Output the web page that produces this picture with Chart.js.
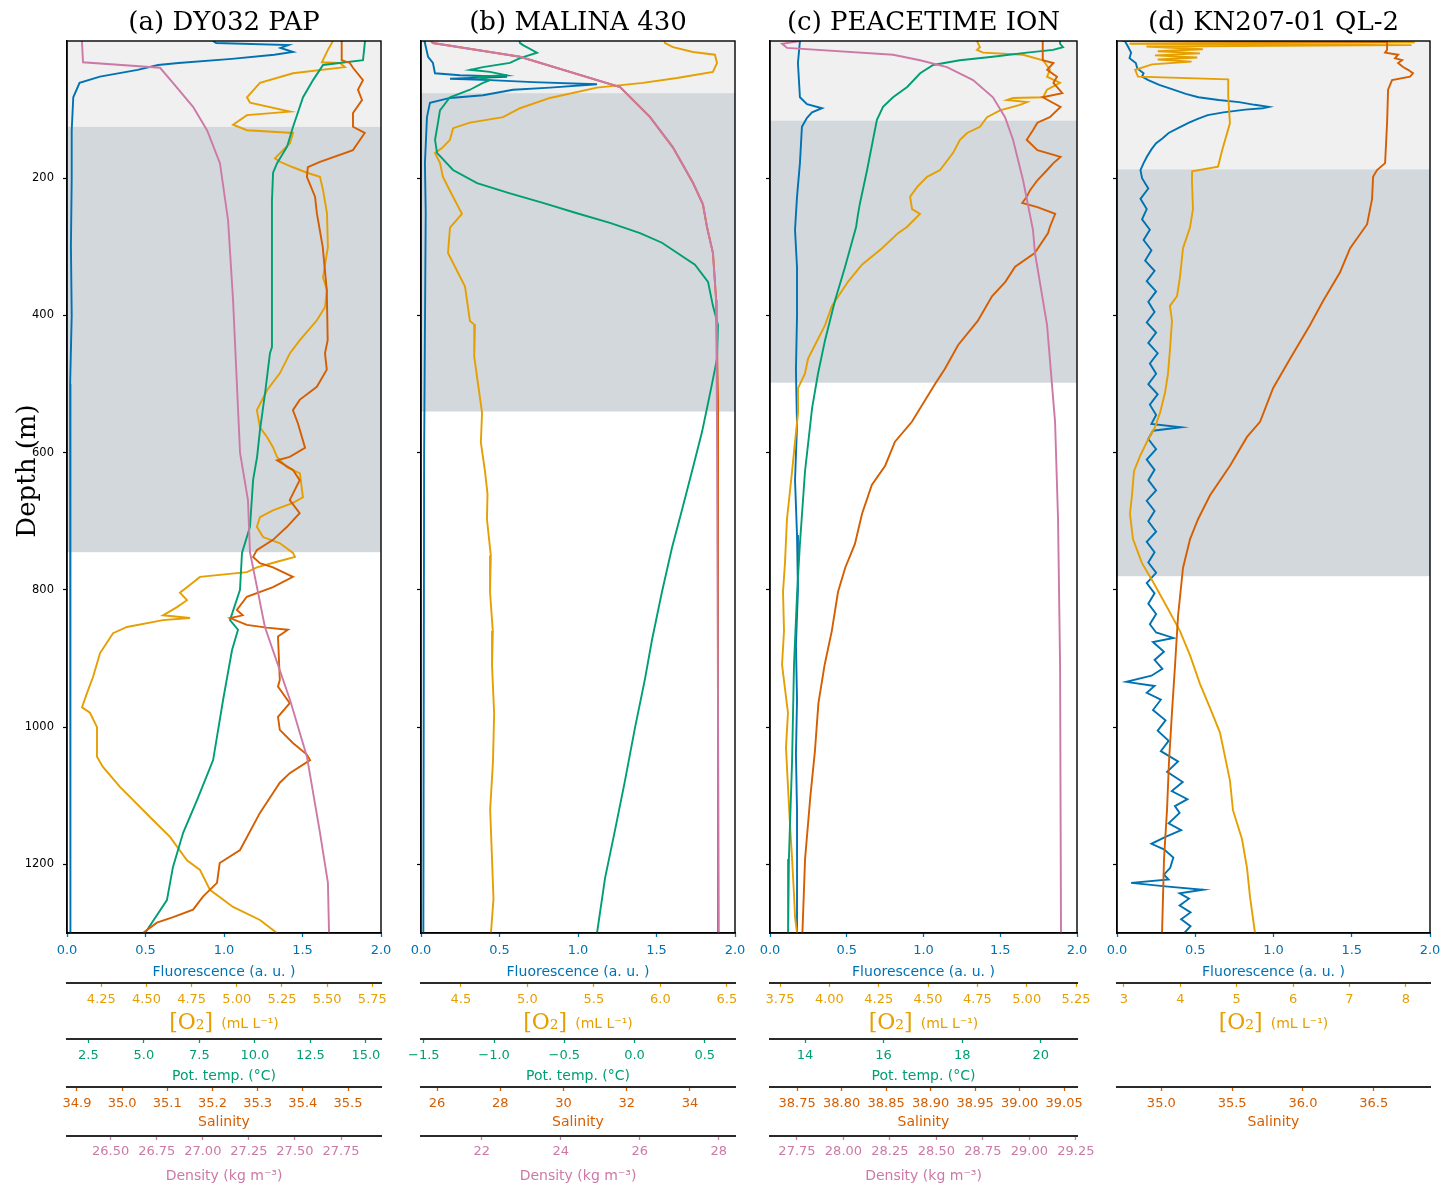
<!DOCTYPE html>
<html><head><meta charset="utf-8">
<script src="https://cdn.jsdelivr.net/npm/chart.js@4.4.1/dist/chart.umd.min.js"></script>
<style>
html,body{margin:0;padding:0;background:#fff;}
#wrap{position:relative;width:1455px;height:1188px;background:#fff;}
#wrap canvas{position:absolute;left:0;top:0;}
</style></head><body><div id="wrap">
<canvas id="pa" width="1455" height="1188"></canvas>
<canvas id="pb" width="1455" height="1188"></canvas>
<canvas id="pc" width="1455" height="1188"></canvas>
<canvas id="pd" width="1455" height="1188"></canvas>
</div>
<script>
const SANS = "'DejaVu Sans', sans-serif";
const SERIF = "'DejaVu Serif', serif";
const COL = {flu:'#0072B2', o2:'#E69F00', temp:'#009E73', sal:'#D55E00', dens:'#CC79A7'};

// ---------- tick labels ----------
const depthTicks = [200,400,600,800,1000,1200];
const flTicks = [0,0.5,1,1.5,2];
const aO2Ticks = [4.25,4.5,4.75,5,5.25,5.5,5.75];
const aTempTicks = [2.5,5,7.5,10,12.5,15];
const aSalTicks = [34.9,35.0,35.1,35.2,35.3,35.4,35.5];
const aDensTicks = [26.5,26.75,27,27.25,27.5,27.75];
const bO2Ticks = [4.5,5,5.5,6,6.5];
const bTempTicks = [-1.5,-1,-0.5,0,0.5];
const bSalTicks = [26,28,30,32,34];
const bDensTicks = [22,24,26,28];
const cO2Ticks = [3.75,4,4.25,4.5,4.75,5,5.25];
const cTempTicks = [14,16,18,20];
const cSalTicks = [38.75,38.8,38.85,38.9,38.95,39,39.05];
const cDensTicks = [27.75,28,28.25,28.5,28.75,29,29.25];
const dO2Ticks = [3,4,5,6,7,8];
const dSalTicks = [35,35.5,36,36.5];

// ---------- shaded depth zones [from, to, colour] ----------
const aBands = [[0,125,'#f0f0f0'],[125,745,'#d3d8dd']];
const bBands = [[0,76,'#f0f0f0'],[76,540,'#d3d8dd']];
const cBands = [[0,116,'#f0f0f0'],[116,498,'#d3d8dd']];
const dBands = [[0,187,'#f0f0f0'],[187,780,'#d3d8dd']];

// ---------- (a) DY032 PAP ----------
const aFluDepth = [0,3,6,10,16,20,26,32,35,42,52,61,82,130,200,300,400,500,600,700,800,900,1000,1100,1200,1300];
const aFluVal = [0.93,0.95,1.41,1.36,1.44,1.32,1.05,0.71,0.58,0.45,0.21,0.08,0.04,0.03,0.03,0.025,0.03,0.02,0.025,0.02,0.025,0.02,0.02,0.025,0.02,0.02];
const aO2Depth = [0,13,31,32,38,47,61,82,90,103,108,122,130,134,149,171,176,184,192,198,217,251,300,345,363,388,407,436,455,484,509,538,563,577,592,606,621,630,665,673,684,694,708,723,732,746,752,759,767,774,781,796,804,815,825,837,841,844,854,863,892,927,950,971,979,1000,1043,1058,1087,1106,1131,1160,1194,1208,1237,1262,1281,1300];
const aO2Val = [5.532,5.504,5.471,5.571,5.598,5.311,5.128,5.056,5.073,5.294,5.056,4.979,5.056,5.311,5.294,5.211,5.239,5.311,5.388,5.460,5.477,5.499,5.504,5.477,5.499,5.488,5.443,5.349,5.294,5.239,5.167,5.111,5.128,5.167,5.200,5.222,5.277,5.349,5.366,5.311,5.200,5.128,5.111,5.145,5.239,5.311,5.322,5.222,5.111,5.056,4.796,4.724,4.685,4.724,4.669,4.591,4.741,4.591,4.392,4.315,4.243,4.204,4.171,4.143,4.187,4.226,4.226,4.259,4.353,4.425,4.519,4.630,4.724,4.796,4.851,4.979,5.128,5.222];
const aTempDepth = [0,28,35,57,82,125,154,178,192,232,446,455,513,567,606,640,708,746,800,844,858,888,960,1048,1106,1154,1204,1252,1296,1300];
const aTempVal = [14.96,14.87,13.07,12.62,12.17,11.72,11.45,11.0,10.82,10.77,10.77,10.68,10.46,10.23,10.10,9.92,9.78,9.42,9.33,8.88,9.24,8.97,8.57,8.12,7.40,6.77,6.31,6.04,5.14,5.05];
const aSalDepth = [0,28,32,39,57,71,86,105,125,134,159,176,184,198,227,251,300,363,436,455,479,504,523,538,557,593,606,611,625,640,669,688,708,727,742,752,761,767,781,796,810,829,837,841,851,855,858,868,931,941,965,985,1004,1023,1040,1048,1067,1081,1096,1125,1179,1198,1227,1247,1266,1277,1285,1300];
const aSalVal = [35.486,35.486,35.504,35.511,35.533,35.522,35.531,35.511,35.511,35.537,35.511,35.438,35.411,35.409,35.427,35.431,35.444,35.453,35.455,35.449,35.453,35.431,35.393,35.378,35.389,35.405,35.371,35.343,35.378,35.393,35.371,35.393,35.365,35.334,35.298,35.290,35.305,35.334,35.378,35.334,35.276,35.254,35.267,35.239,35.276,35.320,35.367,35.345,35.349,35.345,35.371,35.345,35.349,35.378,35.409,35.416,35.371,35.349,35.334,35.305,35.261,35.216,35.210,35.179,35.157,35.113,35.077,35.046];
const aDensDepth = [0,31,39,61,96,130,178,261,377,600,669,745,854,960,1043,1154,1227,1300];
const aDensVal = [26.344,26.35,26.768,26.838,26.947,27.023,27.093,27.137,27.164,27.202,27.245,27.256,27.337,27.473,27.565,27.636,27.679,27.685];

// ---------- (b) MALINA 430 ----------
const bFluDepth = [0,3,23,32,47,50,52,55,57,60,63,68,71,79,83,90,111,178,250,600,1300];
const bFluVal = [0.02,0.025,0.045,0.076,0.089,0.248,0.548,0.185,0.44,0.713,1.121,0.822,0.586,0.395,0.185,0.057,0.038,0.025,0.03,0.02,0.015];
const bO2Depth = [0,3,9,16,20,32,45,54,61,68,83,98,111,119,127,144,156,163,178,198,224,252,272,309,358,408,414,460,500,542,585,627,660,697,750,803,860,910,980,1051,1120,1192,1250,1300];
const bO2Val = [6.03,6.035,6.095,6.245,6.41,6.426,6.395,6.125,5.869,5.523,5.17,4.944,4.817,4.568,4.441,4.418,4.358,4.305,4.343,4.365,4.433,4.508,4.418,4.403,4.531,4.568,4.606,4.60,4.629,4.659,4.65,4.681,4.70,4.696,4.725,4.719,4.74,4.734,4.75,4.741,4.72,4.734,4.745,4.726];
const bTempDepth = [0,3,6,17,25,32,38,42,45,50,52,57,61,71,82,101,119,144,163,188,207,222,236,251,265,280,294,326,351,386,414,463,500,528,570,627,683,739,803,873,930,1001,1078,1150,1220,1300];
const bTempVal = [-0.82,-0.815,-0.794,-0.694,-0.815,-0.887,-1.079,-1.171,-1.029,-0.908,-1.121,-1.029,-1.079,-1.171,-1.314,-1.385,-1.399,-1.420,-1.406,-1.292,-1.121,-0.887,-0.652,-0.410,-0.175,0.039,0.195,0.430,0.523,0.558,0.594,0.587,0.551,0.523,0.480,0.409,0.338,0.266,0.195,0.124,0.074,0.003,-0.068,-0.139,-0.210,-0.267];
const bProfDepth = [0,3,23,67,111,155,207,238,271,309,377,523,1300];
const bSalVal = [25.81,25.87,28.62,31.79,32.74,33.46,34.10,34.41,34.54,34.73,34.83,34.89,34.89];
const bDensVal = [20.71,20.76,22.97,25.50,26.26,26.84,27.35,27.60,27.70,27.85,27.93,27.95,28.00];

// ---------- (c) PEACETIME ION ----------
const cFluDepth = [0,32,82,92,98,104,112,125,178,227,275,330,400,480,560,640,720,800,880,960,1040,1120,1200,1300];
const cFluVal = [0.195,0.182,0.195,0.241,0.339,0.274,0.241,0.208,0.195,0.176,0.163,0.176,0.176,0.169,0.176,0.163,0.176,0.182,0.169,0.176,0.169,0.176,0.176,0.176];
const cO2Depth = [0,9,13,17,20,28,42,52,61,71,82,83,86,89,93,101,111,125,134,144,163,188,198,213,227,245,252,271,280,302,326,351,386,414,443,463,485,506,542,584,627,697,760,803,860,909,979,1030,1086,1140,1192,1240,1277,1300];
const cO2Val = [4.748,4.763,4.748,4.779,4.981,5.083,5.118,5.103,5.169,5.103,5.083,4.931,4.900,5.002,4.966,4.865,4.799,4.763,4.698,4.662,4.627,4.561,4.495,4.444,4.409,4.419,4.459,4.393,4.348,4.267,4.165,4.094,4.013,3.978,3.927,3.892,3.876,3.841,3.841,3.826,3.811,3.785,3.775,3.765,3.77,3.760,3.790,3.78,3.790,3.80,3.811,3.82,3.826,3.836];
const cTempDepth = [0,4,9,13,17,23,28,35,47,67,82,96,115,144,188,236,252,271,329,379,436,485,535,627,733,803,909,1051,1192,1300];
const cTempVal = [20.49,20.49,20.565,20.31,19.65,18.78,17.94,17.26,16.93,16.60,16.24,15.985,15.83,15.73,15.58,15.40,15.35,15.30,15.02,14.76,14.51,14.33,14.18,14.0,13.87,13.8,13.72,13.67,13.59,13.57];
const cSalDepth = [0,17,28,32,42,52,61,76,82,96,111,119,130,144,159,169,178,188,203,217,227,236,242,252,271,280,309,329,351,372,408,443,478,500,555,584,619,647,689,733,768,803,860,909,965,1036,1100,1192,1300];
const cSalVal = [39.026,39.026,39.026,39.038,39.031,39.042,39.038,39.048,39.026,39.046,39.034,39.020,39.015,39.008,39.020,39.046,39.038,39.031,39.020,39.012,39.008,39.003,39.020,39.040,39.034,39.032,39.017,38.995,38.984,38.969,38.953,38.931,38.916,38.905,38.879,38.860,38.849,38.834,38.823,38.815,38.804,38.796,38.789,38.781,38.774,38.770,38.765,38.759,38.756];
const cDensDepth = [0,4,10,20,28,38,57,82,111,144,203,275,309,414,555,696,909,1300];
const cDensVal = [27.767,27.67,27.697,28.267,28.412,28.557,28.697,28.804,28.869,28.912,28.966,29.019,29.030,29.095,29.138,29.154,29.165,29.170];

// ---------- (d) KN207-01 QL-2 ----------
const dFluDepth = [0,8,17,25,32,40,47,52,57,64,71,77,82,86,89,93,96,98,100,104,108,113,119,127,134,142,149,158,169,178,188,
  200,215,230,245,260,275,290,305,320,335,350,365,380,395,410,425,440,455,470,485,500,515,530,545,558,563,568,580,595,610,625,640,655,670,685,700,715,730,745,760,775,790,805,820,835,850,862,870,876,890,902,915,925,934,940,950,960,975,990,1005,1020,1035,1050,1065,1080,1093,1105,1115,1125,1140,1150,1160,1170,1178,1190,1205,1215,1222,1227,1232,1237,1242,1250,1260,1270,1280,1290,1300];
const dFluVal = [0.05,0.07,0.09,0.08,0.12,0.13,0.17,0.16,0.20,0.27,0.36,0.44,0.52,0.65,0.78,0.88,0.97,0.93,0.82,0.68,0.58,0.52,0.46,0.39,0.33,0.29,0.25,0.22,0.19,0.17,0.15,
  0.16,0.20,0.15,0.19,0.16,0.21,0.17,0.22,0.18,0.24,0.19,0.25,0.20,0.24,0.19,0.25,0.20,0.26,0.21,0.25,0.20,0.26,0.21,0.25,0.22,0.41,0.23,0.20,0.25,0.19,0.24,0.20,0.25,0.19,0.24,0.20,0.25,0.19,0.24,0.20,0.25,0.19,0.24,0.20,0.25,0.21,0.25,0.36,0.23,0.30,0.24,0.29,0.22,0.06,0.24,0.19,0.28,0.23,0.31,0.26,0.33,0.28,0.39,0.32,0.42,0.35,0.45,0.37,0.40,0.33,0.41,0.31,0.22,0.30,0.36,0.34,0.30,0.33,0.09,0.31,0.55,0.40,0.46,0.40,0.47,0.41,0.47,0.43];
const dO2Depth = [0,2,4,6,8,12,15,18,21,24,27,30,34,42,52,56,80,120,160,183,190,203,245,272,302,344,372,386,408,450,485,513,542,563,584,605,627,662,689,726,761,788,825,860,895,937,972,1008,1043,1078,1121,1163,1205,1247,1300];
const dO2Val = [3.0,8.16,3.1,8.1,3.4,4.4,3.6,4.35,3.55,4.3,3.6,4.2,3.5,3.2,3.25,4.85,4.85,4.88,4.74,4.67,4.21,4.207,4.225,4.172,4.048,3.995,3.942,3.817,3.853,3.817,3.782,3.729,3.64,3.551,3.41,3.286,3.179,3.144,3.108,3.161,3.321,3.516,3.764,3.995,4.172,4.349,4.527,4.704,4.793,4.881,4.934,5.094,5.183,5.236,5.325];
const dSalDepth = [0,1,13,17,20,25,28,32,38,42,47,52,57,71,119,178,188,198,230,267,302,337,379,414,463,506,555,577,619,662,697,726,768,838,909,979,1051,1121,1192,1247,1300];
const dSalVal = [34.72,36.594,36.594,36.58,36.672,36.65,36.70,36.672,36.707,36.742,36.777,36.756,36.629,36.601,36.594,36.58,36.523,36.495,36.488,36.453,36.333,36.262,36.142,36.05,35.909,35.789,35.697,35.605,35.485,35.344,35.259,35.203,35.153,35.118,35.097,35.075,35.054,35.040,35.019,35.012,35.005];

// ---------- helpers ----------
function zip(d, v){ const n = Math.min(d.length, v.length), out = []; for (let i = 0; i < n; i++) out.push({x: v[i], y: d[i]}); return out; }
function fmt(v, dec){ return Number(v).toFixed(dec).replace('-', '\u2212'); }

function xAxis(o, weight){
  const isMain = o.id === 'xFl';
  return {
    type: 'linear', axis: 'x', position: 'bottom', weight: weight,
    min: o.min, max: o.max,
    afterBuildTicks: s => { s.ticks = o.ticks.map(v => ({value: v})); },
    afterFit: s => { s.height = o.h; },
    ticks: { color: o.color, font: {family: SANS, size: 13}, padding: o.pad, maxRotation: 0, autoSkip: false,
             callback: v => fmt(v, o.dec) },
    grid: { drawOnChartArea: false, drawTicks: true, tickLength: 4, tickColor: o.color, tickWidth: 1.3, color: o.color },
    border: { display: true, color: isMain ? '#000' : '#2a2a2a', width: isMain ? 1.4 : 2 },
    title: { display: !!o.title, text: o.title || '', color: o.color, font: {family: SANS, size: 14},
             padding: {top: 0, bottom: o.tpb || 0} }
  };
}

function deco(p){
  return {
    id: 'deco_' + p.canvas,
    beforeDraw(chart){
      const {ctx, chartArea: a, scales} = chart, y = scales.y;
      ctx.save();
      p.bands.forEach(b => {
        const t = y.getPixelForValue(b[0]), bt = y.getPixelForValue(b[1]);
        ctx.fillStyle = b[2];
        ctx.fillRect(a.left, t, a.right - a.left, bt - t);
      });
      ctx.restore();
    },
    afterDraw(chart){
      const {ctx, chartArea: a, scales} = chart;
      ctx.save();
      ctx.strokeStyle = '#000'; ctx.lineWidth = 1.4;
      ctx.strokeRect(a.left, a.top, a.right - a.left, a.bottom - a.top);
      const s = scales.xO2;
      if (s){
        const cx = (a.left + a.right) / 2, cy = s.top + 40;
        const t1 = '[O\u2082]', t2 = '(mL L\u207B\u00B9)';
        ctx.font = '22px ' + SERIF; const w1 = ctx.measureText(t1).width;
        ctx.font = '14px ' + SANS; const w2 = ctx.measureText(t2).width;
        const gap = 8, x0 = cx - (w1 + gap + w2) / 2;
        ctx.fillStyle = COL.o2; ctx.textBaseline = 'middle'; ctx.textAlign = 'left';
        ctx.font = '22px ' + SERIF; ctx.fillText(t1, x0, cy);
        ctx.font = '14px ' + SANS; ctx.fillText(t2, x0 + w1 + gap, cy + 1);
      }
      if (p.yLabels){
        ctx.translate(28, 471); ctx.rotate(-Math.PI / 2);
        ctx.font = '26px ' + SERIF; ctx.fillStyle = '#000';
        ctx.textAlign = 'center'; ctx.textBaseline = 'middle';
        ctx.fillText('Depth (m)', 0, 0);
      }
      ctx.restore();
    }
  };
}

function makePanel(p){
  const yW = p.yLabels ? 67 : 4;
  const scales = {
    y: { type: 'linear', position: 'left', reverse: true, min: 0, max: 1300,
         afterBuildTicks: s => { s.ticks = depthTicks.map(v => ({value: v})); },
         afterFit: s => { s.width = yW; },
         ticks: { display: p.yLabels, color: '#000', font: {family: SANS, size: 11.5}, padding: 9, autoSkip: false,
                  callback: v => String(v) },
         grid: { drawOnChartArea: false, tickLength: 4, tickColor: '#000', tickWidth: 1.2 },
         border: { color: '#000', width: 1.4 },
         title: { display: false } }
  };
  p.axes.forEach((ax, i) => { scales[ax.id] = xAxis(ax, i); });
  const datasets = p.series.map(s => ({
    data: zip(s.d, s.v), xAxisID: s.axis, yAxisID: 'y', borderColor: s.color, backgroundColor: s.color,
    borderWidth: 1.9, pointRadius: 0, pointHoverRadius: 0, showLine: true, fill: false, tension: 0
  }));
  new Chart(document.getElementById(p.canvas), {
    type: 'scatter',
    data: { datasets },
    options: {
      responsive: false, animation: false, events: [],
      layout: { autoPadding: false, padding: { left: p.left - yW, right: 1455 - p.right, top: 0, bottom: p.padBottom } },
      plugins: {
        legend: { display: false }, tooltip: { enabled: false },
        title: { display: true, text: p.title, fullSize: false, align: 'center', color: '#000',
                 font: { family: SERIF, size: 26, weight: 'normal' }, padding: { top: 7.4, bottom: 2.4 } }
      },
      scales
    },
    plugins: [deco(p)]
  });
}

makePanel({ canvas: 'pa', title: '(a) DY032 PAP', left: 67, right: 381, yLabels: true, bands: aBands, padBottom: 0,
  axes: [
    {id: 'xFl', min: 0, max: 2, ticks: flTicks, dec: 1, color: COL.flu, title: 'Fluorescence (a. u. )', h: 50, tpb: 1.9, pad: 6},
    {id: 'xO2', min: 4.06, max: 5.798, ticks: aO2Ticks, dec: 2, color: COL.o2, title: null, h: 56, pad: 4.5},
    {id: 'xT', min: 1.54, max: 15.68, ticks: aTempTicks, dec: 1, color: COL.temp, title: 'Pot. temp. (°C)', h: 48, tpb: 1.9, pad: 5},
    {id: 'xS', min: 34.878, max: 35.573, ticks: aSalTicks, dec: 1, color: COL.sal, title: 'Salinity', h: 49, tpb: 4.9, pad: 5},
    {id: 'xD', min: 26.263, max: 27.967, ticks: aDensTicks, dec: 2, color: COL.dens, title: 'Density (kg m\u207B\u00B3)', h: 52, tpb: 3.6, pad: 4}
  ],
  series: [
    {d: aDensDepth, v: aDensVal, axis: 'xD', color: COL.dens},
    {d: aSalDepth, v: aSalVal, axis: 'xS', color: COL.sal},
    {d: aTempDepth, v: aTempVal, axis: 'xT', color: COL.temp},
    {d: aO2Depth, v: aO2Val, axis: 'xO2', color: COL.o2},
    {d: aFluDepth, v: aFluVal, axis: 'xFl', color: COL.flu}
  ]});

makePanel({ canvas: 'pb', title: '(b) MALINA 430', left: 421, right: 735, yLabels: false, bands: bBands, padBottom: 0,
  axes: [
    {id: 'xFl', min: 0, max: 2, ticks: flTicks, dec: 1, color: COL.flu, title: 'Fluorescence (a. u. )', h: 50, tpb: 1.9, pad: 6},
    {id: 'xO2', min: 4.2, max: 6.561, ticks: bO2Ticks, dec: 1, color: COL.o2, title: null, h: 56, pad: 4.5},
    {id: 'xT', min: -1.52, max: 0.715, ticks: bTempTicks, dec: 1, color: COL.temp, title: 'Pot. temp. (°C)', h: 48, tpb: 1.9, pad: 5},
    {id: 'xS', min: 25.49, max: 35.427, ticks: bSalTicks, dec: 0, color: COL.sal, title: 'Salinity', h: 49, tpb: 4.9, pad: 5},
    {id: 'xD', min: 20.46, max: 28.409, ticks: bDensTicks, dec: 0, color: COL.dens, title: 'Density (kg m\u207B\u00B3)', h: 52, tpb: 3.6, pad: 4}
  ],
  series: [
    {d: bProfDepth, v: bDensVal, axis: 'xD', color: COL.dens},
    {d: bProfDepth, v: bSalVal, axis: 'xS', color: COL.sal},
    {d: bTempDepth, v: bTempVal, axis: 'xT', color: COL.temp},
    {d: bO2Depth, v: bO2Val, axis: 'xO2', color: COL.o2},
    {d: bFluDepth, v: bFluVal, axis: 'xFl', color: COL.flu}
  ]});

makePanel({ canvas: 'pc', title: '(c) PEACETIME ION', left: 770, right: 1077, yLabels: false, bands: cBands, padBottom: 0,
  axes: [
    {id: 'xFl', min: 0, max: 2, ticks: flTicks, dec: 1, color: COL.flu, title: 'Fluorescence (a. u. )', h: 50, tpb: 1.9, pad: 6},
    {id: 'xO2', min: 3.699, max: 5.255, ticks: cO2Ticks, dec: 2, color: COL.o2, title: null, h: 56, pad: 4.5},
    {id: 'xT', min: 13.109, max: 20.921, ticks: cTempTicks, dec: 0, color: COL.temp, title: 'Pot. temp. (°C)', h: 48, tpb: 1.9, pad: 5},
    {id: 'xS', min: 38.7196, max: 39.0645, ticks: cSalTicks, dec: 2, color: COL.sal, title: 'Salinity', h: 49, tpb: 4.9, pad: 5},
    {id: 'xD', min: 27.605, max: 29.256, ticks: cDensTicks, dec: 2, color: COL.dens, title: 'Density (kg m\u207B\u00B3)', h: 52, tpb: 3.6, pad: 4}
  ],
  series: [
    {d: cDensDepth, v: cDensVal, axis: 'xD', color: COL.dens},
    {d: cSalDepth, v: cSalVal, axis: 'xS', color: COL.sal},
    {d: cTempDepth, v: cTempVal, axis: 'xT', color: COL.temp},
    {d: cO2Depth, v: cO2Val, axis: 'xO2', color: COL.o2},
    {d: cFluDepth, v: cFluVal, axis: 'xFl', color: COL.flu}
  ]});

makePanel({ canvas: 'pd', title: '(d) KN207-01 QL-2', left: 1117, right: 1430, yLabels: false, bands: dBands, padBottom: 52,
  axes: [
    {id: 'xFl', min: 0, max: 2, ticks: flTicks, dec: 1, color: COL.flu, title: 'Fluorescence (a. u. )', h: 50, tpb: 1.9, pad: 6},
    {id: 'xO2', min: 2.878, max: 8.428, ticks: dO2Ticks, dec: 0, color: COL.o2, title: null, h: 104, pad: 4.5},
    {id: 'xS', min: 34.687, max: 36.897, ticks: dSalTicks, dec: 1, color: COL.sal, title: 'Salinity', h: 49, tpb: 4.9, pad: 5}
  ],
  series: [
    {d: dSalDepth, v: dSalVal, axis: 'xS', color: COL.sal},
    {d: dO2Depth, v: dO2Val, axis: 'xO2', color: COL.o2},
    {d: dFluDepth, v: dFluVal, axis: 'xFl', color: COL.flu}
  ]});
</script>
</body></html>
